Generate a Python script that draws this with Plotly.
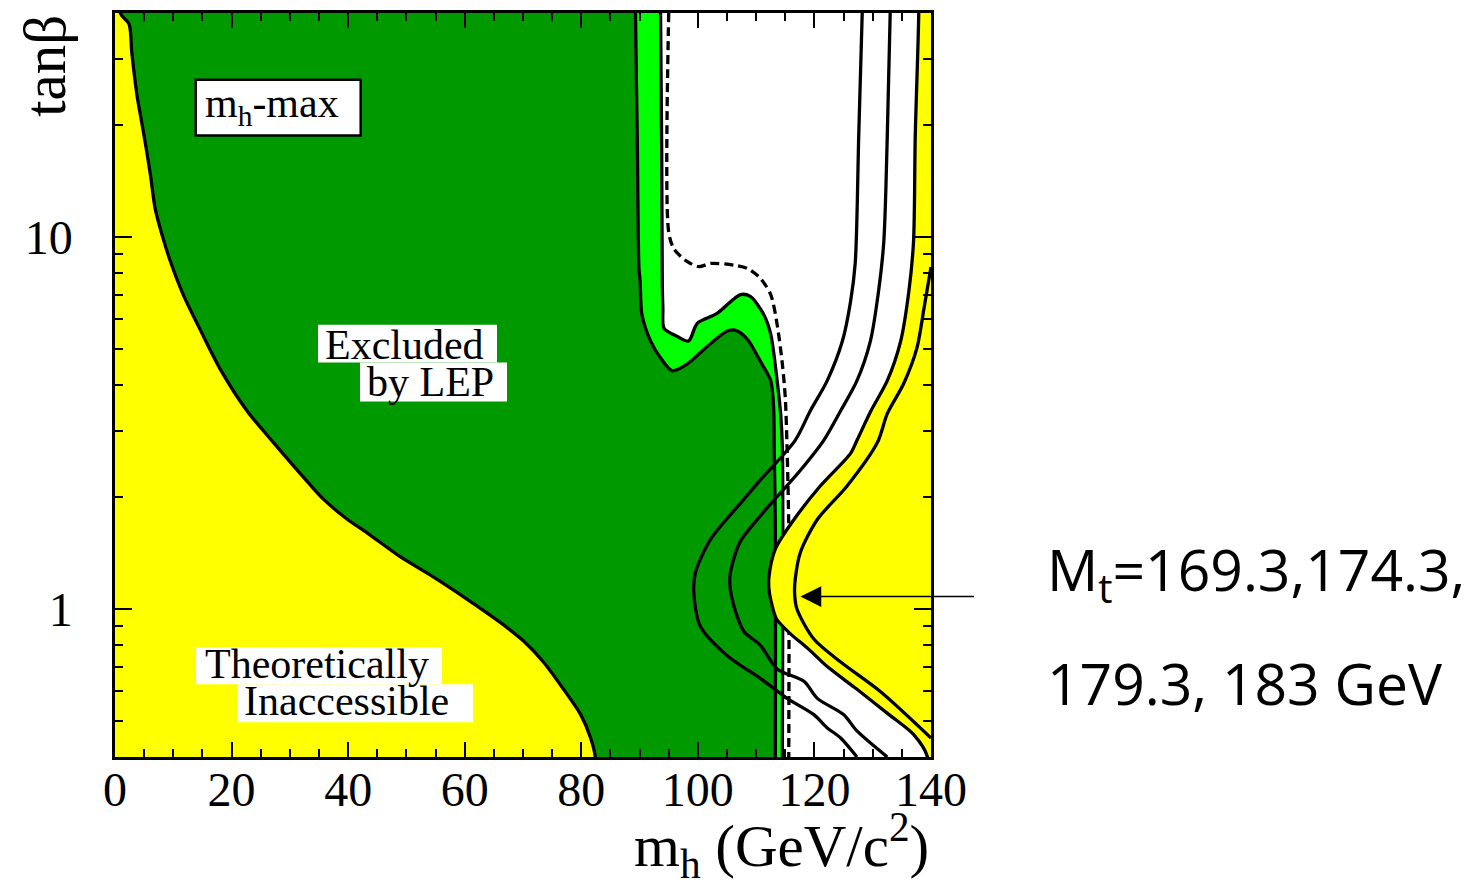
import math
import plotly.graph_objects as go

# ---------------------------------------------------------------
# MSSM m_h-max benchmark: LEP exclusion in the (m_h, tan beta) plane
# Each contour is a list of (m_h [GeV/c^2], tan beta) points, top to bottom.
# ---------------------------------------------------------------

# Theoretically inaccessible region (low m_h side)
theo_mh = [0.9, 2.4, 2.9, 3.8, 4.4, 5.2, 6.1, 6.9, 8.1, 9.5, 11.7, 14.7, 18.1,
           22.7, 27.2, 33.0, 35.8, 39.9, 43.3, 49.0, 54.6, 60.5, 66.1, 70.1,
           73.5, 76.9, 79.9, 81.6, 82.4]
theo_tb = [40, 37.4, 31.1, 23.9, 21.1, 17.9, 14.6, 11.9, 10.1, 8.6, 7.0, 5.6,
           4.4, 3.4, 2.8, 2.2, 1.97, 1.74, 1.60, 1.38, 1.22, 1.06, 0.92, 0.82,
           0.72, 0.61, 0.52, 0.45, 0.4]

# Excluded by LEP (95% CL, observed) - dark green
lep_obs_mh = [89.3, 89.6, 89.9, 90.1, 90.4, 91.9, 93.6, 95.6, 98.2, 100.4,
              102.7, 105.0, 106.5, 108.5, 110.7, 112.5, 113.0, 113.1, 113.3,
              113.3]
lep_obs_tb = [40, 18.7, 8.2, 7.6, 6.19, 5.25, 4.73, 4.37, 4.56, 4.88, 5.25,
              5.58, 5.61, 5.31, 4.64, 4.11, 3.48, 2.72, 1.63, 0.4]

# Excluded by LEP (99.7% CL) - light green
lep_99_mh = [93.6, 93.8, 93.9, 94.0, 94.2, 96.4, 98.4, 99.9, 103.3, 107.3,
             109.0, 111.3, 112.5, 113.6, 114.2, 114.5, 114.5]
lep_99_tb = [40, 16.9, 7.5, 6.43, 5.68, 5.41, 5.25, 5.86, 6.23, 7.0, 6.92,
             6.19, 5.48, 4.11, 3.35, 2.72, 0.4]

# Expected exclusion limit (dashed)
lep_exp_mh = [95.0, 95.0, 95.9, 98.2, 100.2, 102.2, 106.2, 108.5, 110.7, 112.5,
              113.6, 114.5, 115.0, 115.3, 115.6, 115.6]
lep_exp_tb = [40, 10.3, 9.29, 8.58, 8.32, 8.49, 8.40, 8.23, 7.75, 7.0, 5.82,
              4.55, 3.70, 2.73, 1.63, 0.4]

# Upper boundary of m_h for the top-quark masses M_t = 169.3, 174.3, 179.3, 183 GeV
mt_labels = ["169.3", "174.3", "179.3", "183"]

mt1693_mh = [128.2, 127.6, 127.0, 126.2, 124.8, 122.2, 119.3, 116.7, 110.7,
             107.9, 102.2, 99.6, 99.3, 100.4, 105.0, 110.7, 113.0, 115.3,
             119.9, 122.2, 124.5, 127.3]
mt1693_tb = [40, 18.7, 8.5, 6.71, 5.25, 4.11, 3.41, 2.84, 2.22, 1.97, 1.54,
             1.255, 1.11, 0.90, 0.75, 0.651, 0.612, 0.575, 0.52, 0.479, 0.45,
             0.4]

mt1743_mh = [133.0, 132.5, 131.9, 131.0, 129.6, 127.3, 124.5, 121.6, 117.6,
             111.0, 107.2, 105.5, 105.9, 107.9, 110.7, 113.6, 118.2, 120.5,
             125.0, 127.3, 132.5]
mt1743_tb = [40, 18.7, 9.7, 7.14, 5.25, 4.11, 3.41, 2.84, 2.36, 1.80, 1.51,
             1.22, 1.06, 0.87, 0.80, 0.69, 0.639, 0.575, 0.52, 0.47, 0.4]

mt1793_mh = [137.9, 137.3, 137.0, 136.2, 134.8, 132.5, 129.7, 127.3, 126.2,
             121.0, 116.5, 113.3, 112.2, 112.2, 112.5, 113.5, 115.8, 119.0,
             122.2, 127.2, 132.8, 137.0, 139.4]
mt1793_tb = [40, 18.7, 9.7, 7.14, 5.25, 4.11, 3.41, 2.84, 2.62, 2.14, 1.74,
             1.45, 1.22, 1.13, 1.06, 0.94, 0.86, 0.78, 0.70, 0.61, 0.52, 0.46,
             0.4]

mt183_mh = [140.0, 138.8, 137.6, 135.3, 132.5, 130.8, 125.6, 120.5, 117.6,
            116.7, 116.6, 117.0, 119.9, 124.5, 131.3, 140.0]
mt183_tb = [8.3, 6.43, 5.04, 4.03, 3.35, 2.80, 2.14, 1.74, 1.42, 1.20, 1.10,
            1.0, 0.83, 0.72, 0.60, 0.45]

# Axis ranges and ticks
X_RANGE = [0, 140]
Y_RANGE = [0.4, 40]
x_major = 20
x_minor = 5
y_major = [1, 10]
y_minor = [0.4, 0.5, 0.6, 0.7, 0.8, 0.9, 2, 3, 4, 5, 6, 7, 8, 9, 20, 30, 40]

# Colours
DARK_GREEN = "#009900"
LIGHT_GREEN = "#00FF00"
YELLOW = "#FFFF00"
SERIF = "Liberation Serif"
SANS = "Open Sans"

# Figure geometry (pixels)
W, H = 1475, 887
PL, PT, PW, PH = 115, 10, 816, 747


def px(x):
    return (x - PL) / PW


def py(y):
    return (PT + PH - y) / PH


fig = go.Figure()

LINE = dict(color="black", width=3.3, shape="spline", smoothing=0.8)


def region_left(mh, tb, color):
    """Area to the left of a contour that runs from the top to the bottom edge."""
    xs = [mh[0]] + mh + [mh[-1], -10, -10]
    ys = [60] + tb + [0.3, 0.3, 60]
    fig.add_trace(go.Scatter(x=xs, y=ys, mode="lines", fill="toself",
                             fillcolor=color, line=LINE, hoverinfo="skip"))


def region_right(mh, tb, color):
    """Area to the right of a contour that runs from the top to the bottom edge."""
    xs = [mh[0]] + mh + [mh[-1], 150, 150]
    ys = [60] + tb + [0.3, 0.3, 60]
    fig.add_trace(go.Scatter(x=xs, y=ys, mode="lines", fill="toself",
                             fillcolor=color, line=LINE, hoverinfo="skip"))


def contour(mh, tb, dash="solid"):
    fig.add_trace(go.Scatter(x=mh, y=tb, mode="lines",
                             line=dict(LINE, dash=dash), hoverinfo="skip"))


region_left(lep_99_mh, lep_99_tb, LIGHT_GREEN)
region_left(lep_obs_mh, lep_obs_tb, DARK_GREEN)
contour(lep_exp_mh, lep_exp_tb, dash="9px,5px")
region_left(theo_mh, theo_tb, YELLOW)
contour(mt1693_mh, mt1693_tb)
contour(mt1743_mh, mt1743_tb)
region_right(mt1793_mh, mt1793_tb, YELLOW)
contour(mt183_mh, mt183_tb)

# White boxes behind the in-plot labels
boxes = [
    (195.7, 77, 360.7, 133, 2.5),  # m_h-max (framed)
    (318, 323, 497, 361, 0),       # Excluded
    (360, 361, 507, 400, 0),       # by LEP
    (196, 647, 442, 684, 0),       # Theoretically
    (237, 684, 473, 722, 0),       # Inaccessible
]
shapes = []
for x0, y0, x1, y1, bw in boxes:
    shapes.append(dict(type="rect", xref="paper", yref="paper",
                       x0=px(x0), x1=px(x1), y0=py(y1), y1=py(y0),
                       fillcolor="white", layer="above",
                       line=dict(color="black", width=bw) if bw else dict(width=0)))

labels = [
    ("m<sub>h</sub>-max", 272, 103),
    ("Excluded", 404, 343),
    ("by LEP", 430, 380),
    ("Theoretically", 317, 664),
    ("Inaccessible", 346, 701),
]
annotations = []
for text, cx, cy in labels:
    annotations.append(dict(text=text, xref="paper", yref="paper",
                            x=px(cx), y=py(cy), xanchor="center", yanchor="middle",
                            showarrow=False, font=dict(family=SERIF, size=42, color="black")))

# Axis titles
annotations.append(dict(text="m<sub>h</sub> (GeV/c<sup>2</sup>)", xref="paper", yref="paper",
                        x=px(931), y=py(846), xanchor="right", yanchor="middle",
                        showarrow=False, font=dict(family=SERIF, size=59, color="black")))
annotations.append(dict(text="tanβ", xref="paper", yref="paper", textangle=-90,
                        x=px(45), y=py(63), xanchor="center", yanchor="middle",
                        showarrow=False, font=dict(family=SERIF, size=59, color="black")))

# Arrow pointing at the M_t curves and its caption
annotations.append(dict(text="", x=117.6, y=math.log10(1.08), xref="x", yref="y",
                        showarrow=True, arrowhead=2, arrowsize=2.6, arrowwidth=1.6,
                        arrowcolor="black", ax=175, ay=0, standoff=0))
annotations.append(dict(text="M<sub>t</sub>=" + mt_labels[0] + "," + mt_labels[1] + ",",
                        xref="paper", yref="paper", x=px(1045), y=py(572),
                        xanchor="left", yanchor="middle", showarrow=False,
                        font=dict(family=SANS, size=57, color="black")))
annotations.append(dict(text=mt_labels[2] + ", " + mt_labels[3] + " GeV",
                        xref="paper", yref="paper", x=px(1045), y=py(683),
                        xanchor="left", yanchor="middle", showarrow=False,
                        font=dict(family=SANS, size=57, color="black")))

fig.update_layout(
    width=W, height=H,
    margin=dict(l=PL, r=W - PL - PW, t=PT, b=H - PT - PH, pad=0),
    paper_bgcolor="white", plot_bgcolor="white",
    showlegend=False,
    shapes=shapes, annotations=annotations,
)

fig.update_xaxes(
    range=X_RANGE, dtick=x_major, tick0=0,
    ticks="inside", ticklen=15, tickwidth=2, tickcolor="black",
    minor=dict(dtick=x_minor, tick0=0, ticks="inside", ticklen=8, tickwidth=2,
               tickcolor="black", showgrid=False),
    showline=True, linewidth=2.5, linecolor="black", mirror="ticks",
    showgrid=False, zeroline=False,
    tickfont=dict(family=SERIF, size=48, color="black"),
    ticklabelstandoff=-11,
)
fig.update_yaxes(
    type="log", range=[math.log10(Y_RANGE[0]), math.log10(Y_RANGE[1])],
    tickmode="array", tickvals=y_major, ticktext=[str(v) for v in y_major],
    ticks="inside", ticklen=17, tickwidth=2, tickcolor="black",
    minor=dict(tickmode="array", tickvals=y_minor, ticks="inside", ticklen=8,
               tickwidth=2, tickcolor="black", showgrid=False),
    showline=True, linewidth=2.5, linecolor="black", mirror="ticks",
    showgrid=False, zeroline=False,
    tickfont=dict(family=SERIF, size=48, color="black"),
    ticklabelstandoff=30,
)

fig.write_html("out.html")
